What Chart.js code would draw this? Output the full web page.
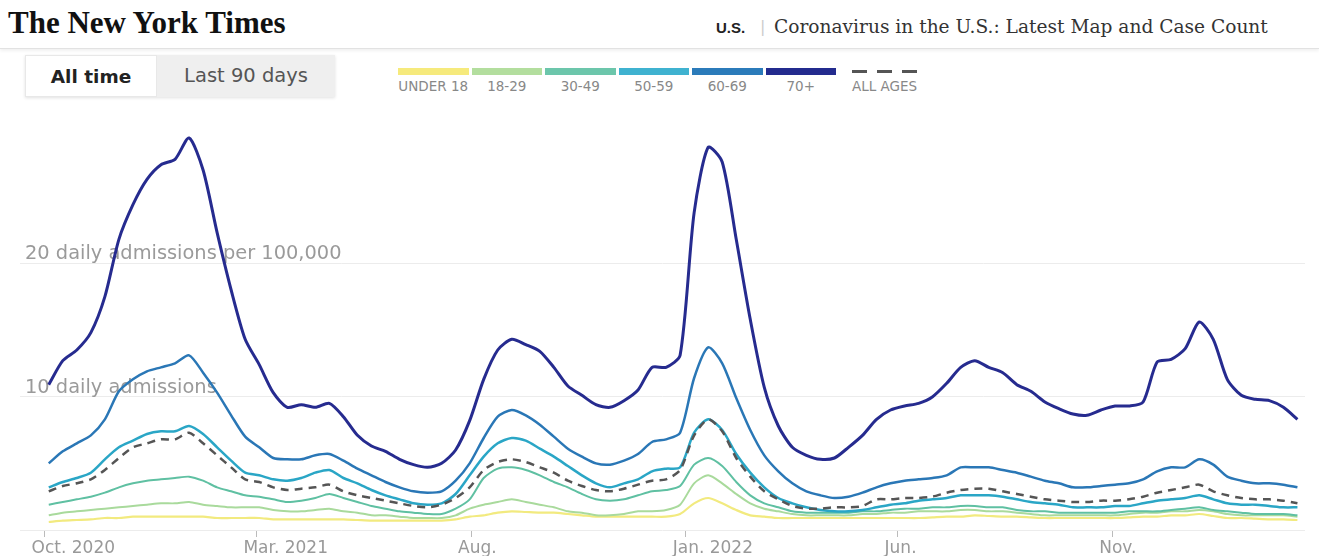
<!DOCTYPE html>
<html>
<head>
<meta charset="utf-8">
<script src="https://cdn.jsdelivr.net/npm/chart.js@4.4.0/dist/chart.umd.min.js"></script>
<style>
    html, body { margin: 0; padding: 0; background: #fff; }
    body { width: 1319px; height: 556px; position: relative; overflow: hidden; font-family: 'DejaVu Sans', sans-serif; }
    .masthead { position: absolute; left: 0; top: 0; width: 1319px; height: 48px; border-bottom: 1px solid #e2e2e2; box-shadow: 0 2px 3px rgba(0,0,0,0.06); }
    .logo { position: absolute; left: 8px; top: 5px; font-family: 'Liberation Serif', serif; font-weight: bold; font-size: 31px; color: #111; }
    .section { position: absolute; left: 716px; top: 19px; font-family: 'Liberation Sans', sans-serif; font-weight: bold; font-size: 15px; color: #222; }
    .sep { position: absolute; left: 760px; top: 17px; font-size: 16px; color: #ccc; }
    .headline { position: absolute; left: 774px; top: 16px; font-family: 'DejaVu Serif', serif; font-size: 18.6px; color: #333; white-space: nowrap; }
    .toggle { position: absolute; left: 25px; top: 55px; height: 42px; display: flex; box-shadow: 0 1px 3px rgba(0,0,0,0.12); }
    .toggle div { height: 42px; line-height: 42px; text-align: center; }
    .toggle .on { width: 132px; background: #fff; font-weight: bold; font-size: 18.5px; color: #222; border: 1px solid #e8e8e8; box-sizing: border-box; }
    .toggle .off { width: 178px; background: #efefef; font-size: 19.5px; color: #555; }
    .legend { position: absolute; left: 398px; top: 68px; display: flex; }
    .legend .item { width: 70.5px; margin-right: 3px; }
    .legend .bar { height: 7px; }
    .legend .lab { font-size: 13.5px; color: #888; text-align: center; margin-top: 3px; white-space: nowrap; }
    .legend .all { margin-left: 13px; width: 70px; }
    .legend .dash { height: 7px; background: repeating-linear-gradient(90deg, #555 0 15px, transparent 15px 25px); background-size: 100% 3px; background-repeat: no-repeat; background-position: 0 2px; }
    .legend .all .lab { text-align: left; }
    #chart { position: absolute; left: 0; top: 110px; }
</style>
</head>
<body>
<div class="masthead">
    <div class="logo">The New York Times</div>
    <div class="section">U.S.</div>
    <div class="sep">|</div>
    <div class="headline">Coronavirus in the U.S.: Latest Map and Case Count</div>
</div>
<div class="toggle"><div class="on">All time</div><div class="off">Last 90 days</div></div>
<div class="legend" id="legend"></div>
<canvas id="chart" width="1319" height="446"></canvas>
<script>
// days since Oct. 1, 2020
let days = [3, 13, 23, 33, 43, 53, 63, 73, 83, 93, 103, 113, 123, 133, 143, 153, 163, 173, 183, 193,
    203, 213, 223, 233, 243, 253, 263, 273, 283, 293, 303, 313, 323, 333, 343, 353, 363, 373, 383, 393,
    403, 413, 423, 433, 443, 453, 463, 473, 483, 493, 503, 513, 523, 533, 543, 553, 563, 573, 583, 593,
    603, 613, 623, 633, 643, 653, 663, 673, 683, 693, 703, 713, 723, 733, 743, 753, 763, 773, 783, 793,
    803, 813, 823, 833, 843, 853, 863, 873, 883, 893];

let age70plus = [10.9, 12.7, 13.5, 14.8, 17.5, 21.8, 24.4, 26.3, 27.4, 27.8,
    29.4, 27.0, 22.3, 18.0, 14.3, 12.4, 10.3, 9.2, 9.4, 9.2,
    9.5, 8.5, 7.1, 6.3, 5.9, 5.3, 4.9, 4.7, 5.0, 6.0,
    8.2, 11.3, 13.5, 14.3, 13.9, 13.4, 12.2, 10.8, 10.1, 9.4,
    9.2, 9.7, 10.5, 12.2, 12.2, 13.1, 23.8, 28.7, 27.6, 21.8,
    15.8, 10.7, 7.8, 6.2, 5.6, 5.3, 5.4, 6.2, 7.1, 8.3,
    9.0, 9.3, 9.5, 10.0, 11.0, 12.2, 12.7, 12.2, 11.8, 10.9,
    10.4, 9.6, 9.1, 8.7, 8.6, 9.0, 9.3, 9.3, 9.6, 12.6,
    12.8, 13.6, 15.6, 14.3, 11.3, 10.1, 9.8, 9.7, 9.2, 8.3];

let age60to69 = [5.0, 5.9, 6.5, 7.1, 8.3, 10.4, 11.3, 11.9, 12.2, 12.5,
    13.1, 11.8, 10.3, 8.6, 7.0, 6.2, 5.4, 5.3, 5.3, 5.6,
    5.7, 5.2, 4.6, 4.1, 3.6, 3.2, 2.9, 2.8, 2.9, 3.7,
    5.0, 6.9, 8.5, 9.0, 8.6, 7.9, 7.0, 6.1, 5.5, 5.0,
    4.9, 5.2, 5.7, 6.6, 6.8, 7.3, 11.4, 13.7, 12.5, 9.9,
    7.5, 5.6, 4.4, 3.5, 2.9, 2.6, 2.4, 2.5, 2.8, 3.2,
    3.5, 3.7, 3.8, 3.9, 4.1, 4.7, 4.7, 4.7, 4.5, 4.3,
    4.0, 3.7, 3.5, 3.2, 3.2, 3.3, 3.4, 3.5, 3.8, 4.4,
    4.7, 4.7, 5.3, 4.9, 4.0, 3.7, 3.5, 3.5, 3.4, 3.2];

let age50to59 = [3.2, 3.6, 3.9, 4.3, 5.3, 6.2, 6.7, 7.2, 7.4, 7.4,
    7.8, 7.2, 6.2, 5.2, 4.3, 4.1, 3.8, 3.7, 3.9, 4.3,
    4.5, 3.9, 3.5, 3.0, 2.6, 2.3, 2.0, 1.9, 2.0, 2.7,
    4.1, 5.5, 6.5, 6.9, 6.7, 6.1, 5.5, 4.8, 4.1, 3.5,
    3.2, 3.5, 3.8, 4.4, 4.6, 4.7, 7.3, 8.3, 7.5, 5.7,
    4.3, 3.2, 2.4, 2.0, 1.7, 1.5, 1.4, 1.4, 1.5, 1.7,
    1.9, 2.0, 2.2, 2.3, 2.4, 2.6, 2.6, 2.6, 2.5, 2.3,
    2.1, 2.0, 1.9, 1.7, 1.7, 1.7, 1.8, 1.8, 2.0, 2.2,
    2.3, 2.4, 2.6, 2.3, 2.0, 1.9, 1.9, 1.8, 1.7, 1.7];

let age30to49 = [1.9, 2.1, 2.3, 2.5, 2.8, 3.2, 3.5, 3.7, 3.8, 3.9,
    4.0, 3.7, 3.2, 2.9, 2.6, 2.5, 2.3, 2.1, 2.2, 2.4,
    2.7, 2.4, 2.1, 1.8, 1.6, 1.4, 1.3, 1.2, 1.2, 1.6,
    2.3, 3.9, 4.6, 4.7, 4.5, 4.1, 3.6, 3.2, 2.7, 2.3,
    2.2, 2.3, 2.6, 2.9, 3.0, 3.3, 4.9, 5.4, 4.8, 3.6,
    2.6, 2.0, 1.7, 1.4, 1.3, 1.3, 1.3, 1.3, 1.4, 1.4,
    1.5, 1.6, 1.6, 1.7, 1.7, 1.8, 1.8, 1.7, 1.7, 1.5,
    1.4, 1.4, 1.3, 1.3, 1.3, 1.3, 1.3, 1.4, 1.4, 1.4,
    1.5, 1.6, 1.7, 1.5, 1.4, 1.3, 1.2, 1.2, 1.2, 1.1];

let age18to29 = [1.1, 1.3, 1.4, 1.5, 1.6, 1.7, 1.8, 1.9, 2.0, 2.0,
    2.1, 1.9, 1.8, 1.7, 1.7, 1.7, 1.5, 1.4, 1.4, 1.5,
    1.6, 1.4, 1.3, 1.1, 1.1, 1.0, 0.9, 0.9, 0.9, 1.1,
    1.6, 1.9, 2.1, 2.3, 2.1, 1.9, 1.7, 1.4, 1.3, 1.1,
    1.1, 1.2, 1.4, 1.4, 1.5, 1.9, 3.5, 4.1, 3.5, 2.7,
    2.0, 1.6, 1.4, 1.2, 1.1, 1.1, 1.1, 1.1, 1.2, 1.2,
    1.3, 1.3, 1.4, 1.4, 1.4, 1.5, 1.5, 1.4, 1.4, 1.3,
    1.2, 1.1, 1.1, 1.1, 1.1, 1.1, 1.1, 1.2, 1.3, 1.3,
    1.4, 1.4, 1.5, 1.4, 1.2, 1.1, 1.1, 1.1, 1.1, 1.0];

let under18 = [0.6, 0.7, 0.75, 0.8, 0.9, 0.9, 1.0, 1.0, 1.0, 1.0,
    1.0, 1.0, 0.9, 0.9, 0.9, 0.9, 0.8, 0.8, 0.8, 0.8,
    0.8, 0.8, 0.75, 0.7, 0.7, 0.7, 0.7, 0.7, 0.7, 0.8,
    1.0, 1.1, 1.3, 1.4, 1.35, 1.3, 1.3, 1.2, 1.1, 1.0,
    1.0, 1.0, 1.0, 1.0, 1.0, 1.2, 2.0, 2.4, 2.0, 1.5,
    1.1, 1.0, 0.9, 0.9, 0.9, 0.9, 0.9, 0.9, 0.9, 0.9,
    0.9, 0.9, 0.9, 0.95, 1.0, 1.0, 1.1, 1.05, 1.0, 1.0,
    0.95, 0.9, 0.9, 0.9, 0.9, 0.9, 0.9, 0.95, 1.0, 1.0,
    1.1, 1.1, 1.2, 1.05, 0.9, 0.9, 0.85, 0.8, 0.8, 0.75];

let allAges = [2.9, 3.3, 3.5, 3.8, 4.5, 5.4, 6.2, 6.5, 6.8, 6.8,
    7.3, 6.5, 5.6, 4.7, 3.8, 3.6, 3.2, 3.0, 3.1, 3.2,
    3.4, 2.9, 2.6, 2.4, 2.2, 2.0, 1.8, 1.7, 1.9, 2.4,
    3.2, 4.5, 5.1, 5.3, 5.1, 4.7, 4.3, 3.7, 3.3, 3.0,
    2.9, 3.1, 3.4, 3.7, 3.8, 4.5, 7.1, 8.3, 7.4, 5.4,
    4.0, 2.9, 2.3, 1.8, 1.6, 1.6, 1.7, 1.7, 1.8, 2.3,
    2.3, 2.4, 2.4, 2.5, 2.8, 3.0, 3.1, 3.1, 2.9, 2.7,
    2.5, 2.3, 2.2, 2.1, 2.1, 2.2, 2.2, 2.3, 2.5, 2.8,
    3.0, 3.2, 3.4, 2.9, 2.6, 2.4, 2.3, 2.3, 2.2, 2.0];

// x ticks: first of month, as days since Oct. 1, 2020
let tickDays = [0, 151, 304, 457, 608, 761];
let tickLabels = ['Oct. 2020', 'Mar. 2021', 'Aug.', 'Jan. 2022', 'Jun.', 'Nov.'];
let yTickValues = [0, 10, 20];
let yTickLabels = ['', '10 daily admissions', '20 daily admissions per 100,000'];

let legendNames = ['UNDER 18', '18-29', '30-49', '50-59', '60-69', '70+'];
let legendColors = ['#f6ea7c', '#b3de9e', '#6cc6ab', '#3fb2d0', '#2b7bba', '#232b8e'];

let legendEl = document.getElementById('legend');
legendNames.forEach((name, i) => {
    let item = document.createElement('div');
    item.className = 'item';
    item.innerHTML = '<div class="bar" style="background:' + legendColors[i] + '"></div><div class="lab">' + name + '</div>';
    legendEl.appendChild(item);
});
let allItem = document.createElement('div');
allItem.className = 'item all';
allItem.innerHTML = '<div class="dash"></div><div class="lab">ALL AGES</div>';
legendEl.appendChild(allItem);

function series(values) {
    return values.map((v, i) => ({ x: days[i], y: v }));
}

function line(label, values, color, width, dash) {
    return {
        label: label,
        data: series(values),
        borderColor: color,
        borderWidth: width,
        borderDash: dash || [],
        pointRadius: 0,
        tension: 0.25,
        fill: false
    };
}

new Chart(document.getElementById('chart'), {
    type: 'line',
    data: {
        datasets: [
            line('70+', age70plus, '#262b8f', 3),
            line('60-69', age60to69, '#2a77b6', 2.5),
            line('All ages', allAges, '#555555', 2.5, [8, 6]),
            line('50-59', age50to59, '#2aa6c6', 2.5),
            line('30-49', age30to49, '#5fc0a2', 2),
            line('18-29', age18to29, '#a9da9c', 2),
            line('Under 18', under18, '#f2ea7f', 2.2)
        ]
    },
    options: {
        responsive: false,
        animation: false,
        layout: { padding: { left: 20, right: 14, top: 20, bottom: 0 } },
        plugins: { legend: { display: false }, tooltip: { enabled: false } },
        scales: {
            x: {
                type: 'linear',
                min: -17.5,
                max: 898.4,
                afterBuildTicks: s => { s.ticks = tickDays.map(v => ({ value: v })); },
                afterFit: s => { s.height = 26; },
                grid: { drawOnChartArea: false, drawTicks: true, tickLength: 7, color: '#bbbbbb' },
                border: { display: false },
                ticks: {
                    autoSkip: false,
                    maxRotation: 0,
                    align: 'start',
                    labelOffset: -13,
                    padding: 1,
                    color: '#999',
                    font: { family: 'DejaVu Sans', size: 17 },
                    callback: (v, i) => tickLabels[i]
                }
            },
            y: {
                min: 0,
                max: 30,
                afterBuildTicks: s => { s.ticks = yTickValues.map(v => ({ value: v })); },
                afterFit: s => { s.width = 0; },
                grid: { drawTicks: false, color: '#ececec', lineWidth: 1 },
                border: { display: false },
                ticks: {
                    mirror: true,
                    padding: 5,
                    labelOffset: -9,
                    color: '#9a9a9a',
                    font: { family: 'DejaVu Sans', size: 19.4 },
                    callback: (v, i) => yTickLabels[i]
                }
            }
        }
    }
});
</script>
</body>
</html>
